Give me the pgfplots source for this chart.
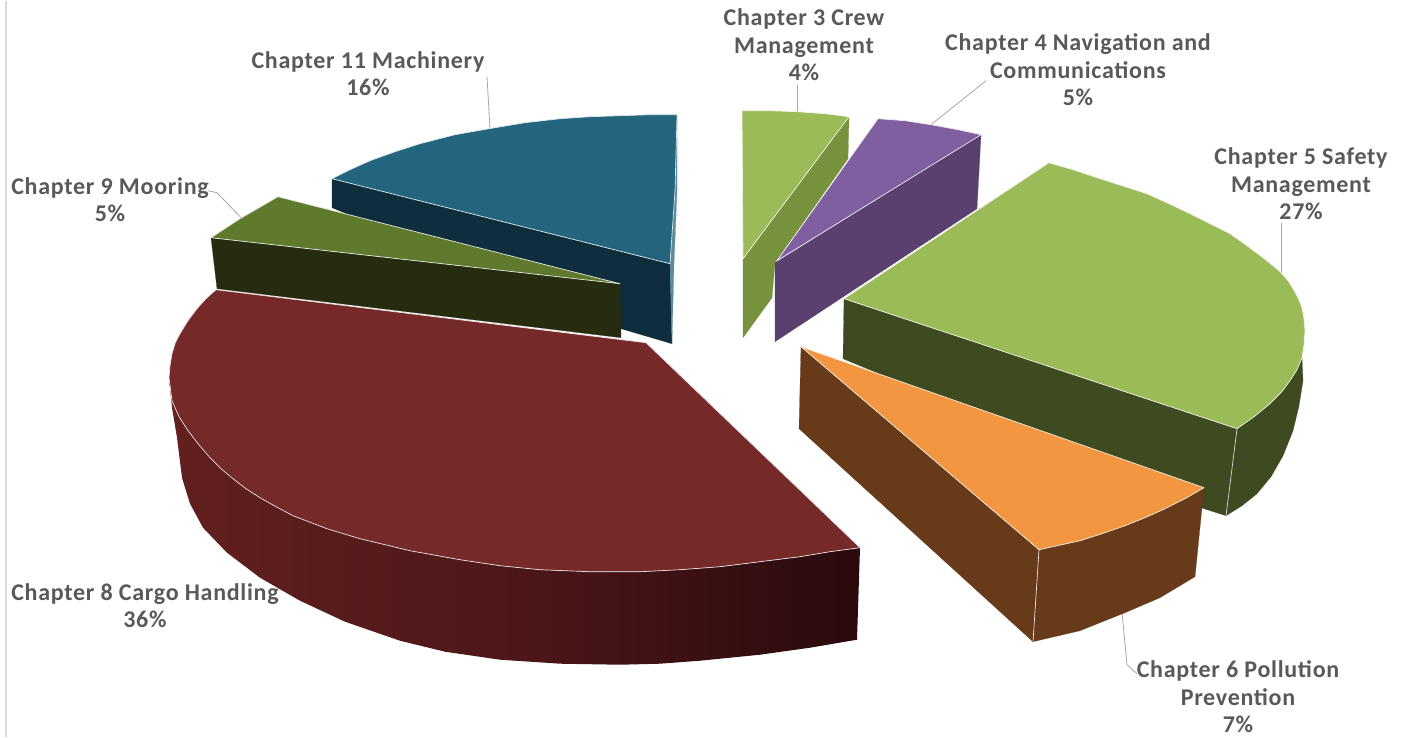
\documentclass[border=0pt]{standalone}
\usepackage{pgfplots}
\pgfplotsset{compat=1.18}
\usepackage{fontspec}
\setmainfont[LetterSpace=3]{Carlito}
\definecolor{lab}{HTML}{595959}
\definecolor{lead}{HTML}{A6A6A6}
\definecolor{machS}{HTML}{0F2E3D}
\definecolor{machL}{HTML}{5C8C9C}
\definecolor{machT}{HTML}{23657C}
\definecolor{moorS}{HTML}{272B0F}
\definecolor{moorT}{HTML}{5F7A2D}
\definecolor{cargoA}{HTML}{62201F}
\definecolor{cargoB}{HTML}{4D1719}
\definecolor{cargoC}{HTML}{2A0A0D}
\definecolor{cargoT}{HTML}{752A29}
\definecolor{crewS}{HTML}{76923C}
\definecolor{greenT}{HTML}{9BBB59}
\definecolor{purpS}{HTML}{5A406F}
\definecolor{purpT}{HTML}{7F5F9F}
\definecolor{safeS}{HTML}{3E4A20}
\definecolor{polS}{HTML}{673A1A}
\definecolor{polT}{HTML}{F39642}
\tikzset{
  lbl/.style={font=\fontsize{24}{27.5}\selectfont\bfseries, text=lab, align=center, inner sep=0pt},
}
\pgfplotsset{
  wall/.style={mark=none, fill=#1, draw=#1, line width=0.2pt, line join=round},
  face/.style={mark=none, fill=#1, draw=white!85!#1, line width=0.7pt, line join=round},
  leader/.style={mark=none, draw=lead, line width=0.8pt},
}
\begin{document}
\begin{tikzpicture}
\begin{axis}[hide axis, scale only axis, width=1404pt, height=736pt, at={(0,0)}, anchor=south west,
  xmin=0, xmax=1404, ymin=0, ymax=736, y dir=reverse, clip=false]
% frame line at left
\addplot[mark=none, draw=black!15, line width=1.4pt] coordinates {(6,0) (6,736)};
% leaders
\addplot[leader] coordinates {(797,111) (797,84)};
\addplot[leader] coordinates {(931,124) (986,80)};
\addplot[leader] coordinates {(1281,272) (1281,222)};
\addplot[leader] coordinates {(1122,612) (1127,664) (1137,673)};
\addplot[leader] coordinates {(241,217) (217,192) (208,190)};
\addplot[leader] coordinates {(490,128) (487,76)};
% Machinery
\addplot[wall=machS] coordinates {(332,178) (670,263) (672,343) (621,328) (332,207)} -- cycle;
\addplot[wall=machL] coordinates {(677,114) (677,190) (674,263) (672,343) (670,263)} -- cycle;
\addplot[face=machT] coordinates {(332,178) (350,169) (370,160) (395,151) (420,143) (455,134) (489,128) (525,122) (560,118) (590,116) (620,115) (650,114) (677,114) (675,190) (670,263)} -- cycle;
% Mooring
\addplot[wall=moorS] coordinates {(211,237) (620,283) (621,337) (217,288)} -- cycle;
\addplot[face=moorT] coordinates {(278,196) (240,218) (211,237) (620,283)} -- cycle;
% Cargo wall and face
\addplot[mark=none, draw=none, left color=cargoA, right color=cargoC, middle color=cargoB]
  coordinates {(169,377) (172,400) (179,416) (188,430) (198,443) (210,457) (221,468) (233,478) (246,488) (260,497) (276,506) (293,515) (327,528) (360,538) (410,550) (460,559) (500,565) (540,569) (590,571) (640,571) (680,569) (720,566) (760,561) (800,556) (830,551) (860,547)
  (857,639) (810,647) (760,654) (700,660) (660,663) (620,664) (560,663) (500,659) (445,651) (400,640) (345,621) (300,600) (260,577) (227,552) (203,527) (190,503) (182,477) (177,437) (172,407)} -- cycle;
\addplot[face=cargoT] coordinates {(216,289) (206,298) (197,308) (188,320) (180,333) (175,343) (172,353) (170,365) (169,377) (172,400) (179,416) (188,430) (198,443) (210,457) (221,468) (233,478) (246,488) (260,497) (276,506) (293,515) (327,528) (360,538) (410,550) (460,559) (500,565) (540,569) (590,571) (640,571) (680,569) (720,566) (760,561) (800,556) (830,551) (860,547) (646,342)} -- cycle;
% Crew
\addplot[wall=crewS] coordinates {(849,116) (848,158) (775,262) (772,297) (743,337) (743,258)} -- cycle;
\addplot[face=greenT] coordinates {(742,110) (770,110) (797,111) (825,113) (849,116) (743,258)} -- cycle;
% Navigation
\addplot[wall=purpS] coordinates {(981,134) (977,208) (775,341) (775,262)} -- cycle;
\addplot[face=purpT] coordinates {(878,118) (905,120) (931,124) (958,129) (981,134) (777,260)} -- cycle;
% Safety
\addplot[wall=safeS] coordinates {(844,298) (1237,428) (1302,357) (1303,380) (1299,405) (1293,430) (1283,455) (1271,476) (1257,493) (1242,505) (1226,515) (1204,508) (843,358)} -- cycle;
\addplot[face=greenT] coordinates {(1049,162) (1073,169) (1097,177) (1122,185) (1147,193) (1169,203) (1190,213) (1210,223) (1230,233) (1247,245) (1263,257) (1273,265) (1281,272) (1288,280) (1293,288) (1298,297) (1302,307) (1304,318) (1305,330) (1304,344) (1302,357) (1297,369) (1290,380) (1281,392) (1270,403) (1254,416) (1237,428) (844,298)} -- cycle;
\addplot[mark=none, draw=white!80!safeS, line width=0.7pt] coordinates {(1237,428) (1226,515)};
% Pollution
\addplot[wall=polS] coordinates {(801,346) (1039,549) (1033,641) (799,428)} -- cycle;
\addplot[wall=polS] coordinates {(1039,549) (1080,540) (1125,525) (1165,508) (1204,487) (1195,576) (1160,597) (1125,612) (1080,630) (1033,641)} -- cycle;
\addplot[mark=none, draw=white!85!polS, line width=0.7pt] coordinates {(1039,549) (1033,641)};
\addplot[face=polT] coordinates {(801,346) (1204,487) (1185,498) (1165,508) (1145,517) (1125,525) (1102,533) (1080,540) (1039,549)} -- cycle;
% Labels
\node[lbl] at (axis cs:804,44) {Chapter 3 Crew\\Management\\4\%};
\node[lbl] at (axis cs:1078,69) {Chapter 4 Navigation and\\Communications\\5\%};
\node[lbl] at (axis cs:1301,183) {Chapter 5 Safety\\Management\\27\%};
\node[lbl] at (axis cs:1238,696) {Chapter 6 Pollution\\Prevention\\7\%};
\node[lbl] at (axis cs:145,605) {Chapter 8 Cargo Handling\\36\%};
\node[lbl] at (axis cs:110,199) {Chapter 9 Mooring\\5\%};
\node[lbl] at (axis cs:368,73) {Chapter 11 Machinery\\16\%};
\end{axis}
\path[use as bounding box] (0,0) rectangle (1404pt,736pt);
\end{tikzpicture}
\end{document}
